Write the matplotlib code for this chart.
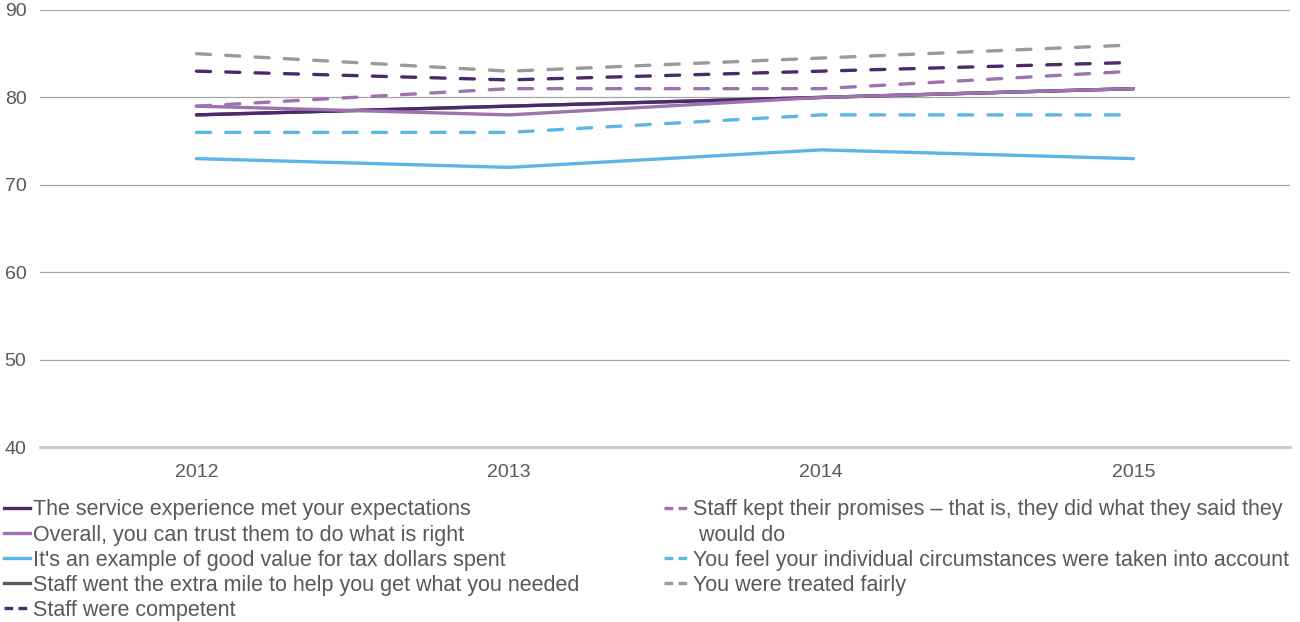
import matplotlib.pyplot as plt
from matplotlib.lines import Line2D

plt.rcParams['font.family'] = ['Liberation Sans', 'DejaVu Sans']

years = ['2012', '2013', '2014', '2015']

service_expectations = [78, 79, 80, 81]
trust_do_right = [79, 78, 80, 81]
value_tax_dollars = [73, 72, 74, 73]
extra_mile = [78, 79, 80, 81]
staff_competent = [83, 82, 83, 84]
kept_promises = [79, 81, 81, 83]
circumstances = [76, 76, 78, 78]
treated_fairly = [85, 83, 84.5, 86]

DARK_PURPLE = '#4a2a6c'
LIGHT_PURPLE = '#9d72ad'
BLUE = '#5db5e6'
GREY = '#9a9a9c'
DARK_GREY = '#5a5a5c'
TEXT = '#595959'

series = [
    ('The service experience met your expectations', service_expectations, DARK_PURPLE, '-'),
    ('Overall, you can trust them to do what is right', trust_do_right, LIGHT_PURPLE, '-'),
    ("It's an example of good value for tax dollars spent", value_tax_dollars, BLUE, '-'),
    ('Staff went the extra mile to help you get what you needed', extra_mile, DARK_GREY, '-'),
    ('Staff were competent', staff_competent, DARK_PURPLE, '--'),
    ('Staff kept their promises \u2013 that is, they did what they said they', kept_promises, LIGHT_PURPLE, '--'),
    ('You feel your individual circumstances were taken into account', circumstances, BLUE, '--'),
    ('You were treated fairly', treated_fairly, GREY, '--'),
]

fig = plt.figure(figsize=(13, 6.22), dpi=100)
ax = fig.add_axes([0.031, 0.281, 0.961, 0.703])

x = range(len(years))
# draw the extra-mile line first so it sits underneath
order = [3, 0, 1, 2, 4, 5, 6, 7]
for i in order:
    label, vals, color, ls = series[i]
    if ls == '--':
        ax.plot(x, vals, color=color, lw=2.4, ls=(0, (4.2, 4.6)),
                dash_capstyle='round', zorder=3)
    else:
        ax.plot(x, vals, color=color, lw=2.4, solid_capstyle='round', zorder=3)

handles = []
for label, vals, color, ls in series:
    if ls == '--':
        h = Line2D([], [], color=color, lw=2.4, ls=(0, (2.6, 1.6)))
    else:
        h = Line2D([], [], color=color, lw=2.4)
    handles.append(h)

ax.set_xlim(-0.5, 3.5)
ax.set_ylim(40, 90)
ax.set_yticks([40, 50, 60, 70, 80, 90])
ax.set_xticks(list(x))
ax.set_xticklabels(years)
ax.grid(axis='y', color='#a6a6a6', lw=0.9)
ax.set_axisbelow(True)
for s in ['top', 'right', 'left']:
    ax.spines[s].set_visible(False)
ax.spines['bottom'].set_color('#c8c8c8')
ax.spines['bottom'].set_linewidth(2)
ax.tick_params(length=0, labelsize=14, colors=TEXT)
ax.tick_params(axis='x', pad=12)
ax.tick_params(axis='y', pad=10)

labels = [s[0] for s in series]
# the long promises label wraps onto a second row with no handle
blank = Line2D([], [], color='none')
right_handles = [handles[5], blank] + handles[6:]
right_labels = [labels[5], ' would do'] + labels[6:]

common = dict(frameon=False, fontsize=15.5, handlelength=1.2, handletextpad=0.15,
              labelspacing=0.19, borderaxespad=0, borderpad=0, labelcolor=TEXT)
leg1 = fig.legend(handles[:5], labels[:5], loc='upper left',
                  bbox_to_anchor=(0.003, 0.197), **common)
leg2 = fig.legend(right_handles, right_labels, loc='upper left',
                  bbox_to_anchor=(0.511, 0.197), **common)

fig.savefig('out.png', dpi=100)
